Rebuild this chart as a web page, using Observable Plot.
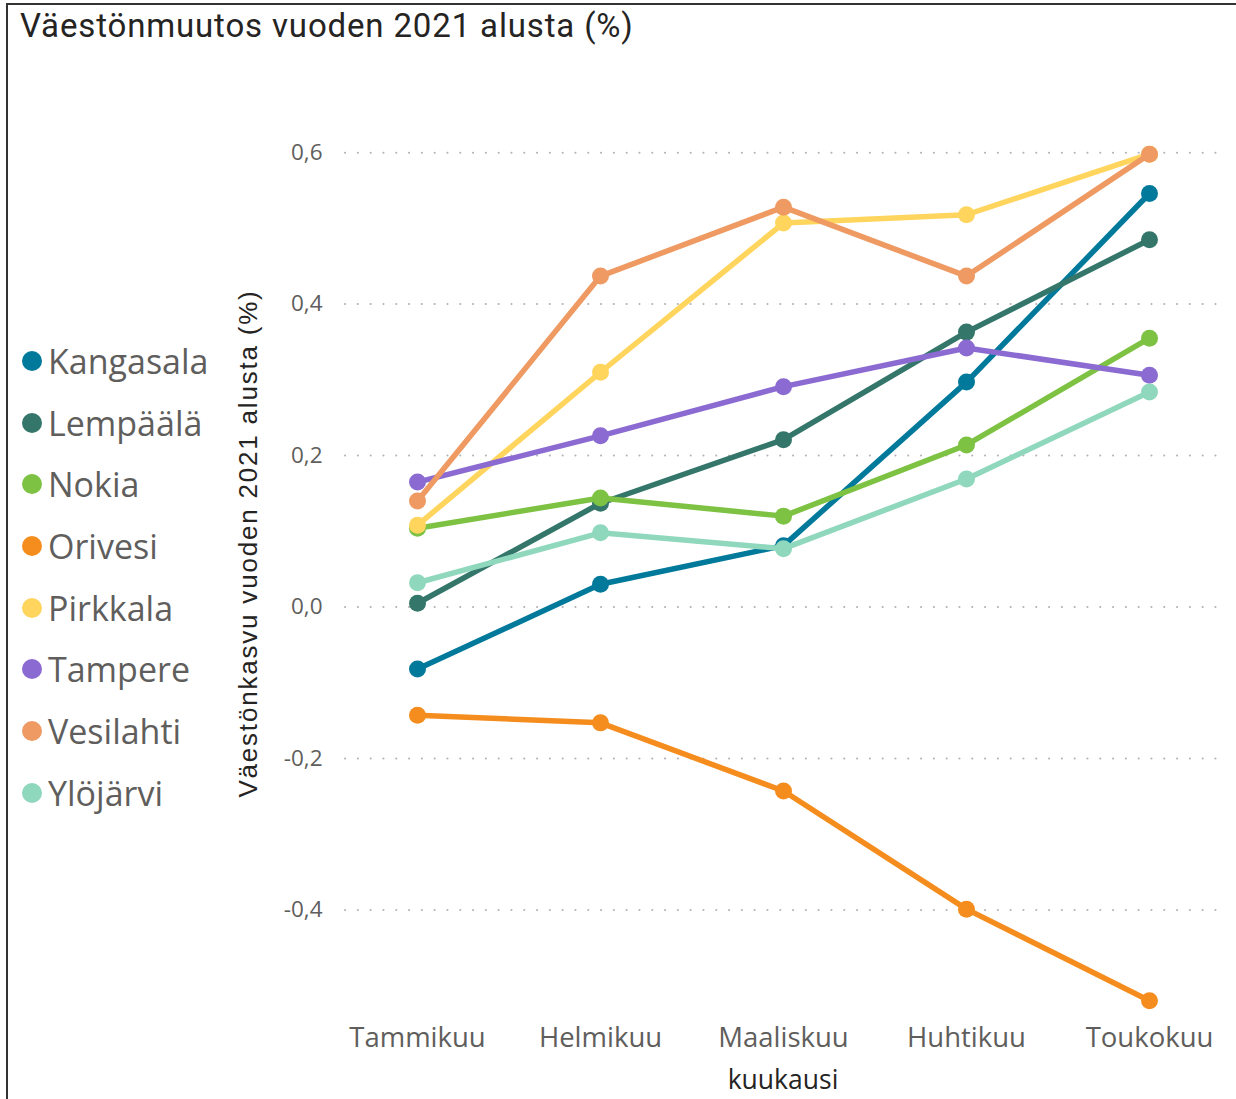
<!DOCTYPE html>
<html>
<head>
<meta charset="utf-8">
<script src="https://cdn.jsdelivr.net/npm/d3@7"></script>
<script src="https://cdn.jsdelivr.net/npm/@observablehq/plot@0.6"></script>
<style>
  html, body { margin: 0; padding: 0; background: #fff; }
  #wrap { position: relative; width: 1236px; height: 1099px; overflow: hidden; }
  #frame { position: absolute; left: 6px; top: 3px; width: 1240px; height: 1110px;
           border-top: 2px solid #333; border-left: 2px solid #333; box-sizing: border-box; }
  #title { position: absolute; left: 20px; top: 6px; font-family: Roboto, sans-serif;
           font-size: 33px; letter-spacing: 0.85px; color: #252423; white-space: nowrap; }
  #legend { position: absolute; left: 22px; top: 330px; font-family: "Open Sans", sans-serif;
            font-size: 34px; color: #605e5c; }
  .item { height: 61.7px; display: flex; align-items: center; white-space: nowrap; }
  .sw { width: 20px; height: 20px; border-radius: 50%; margin-right: 6px; flex: none; }
  #chart { position: absolute; left: 0; top: 0; }
  .ylab text { letter-spacing: 1.8px; }
</style>
</head>
<body>
<div id="wrap">
  <div id="frame"></div>
  <div id="chart"></div>
  <div id="title">Väestönmuutos vuoden 2021 alusta (%)</div>
  <div id="legend"></div>
</div>
<script>
const months = ["Tammikuu", "Helmikuu", "Maaliskuu", "Huhtikuu", "Toukokuu"];
const names = ["Kangasala", "Lempäälä", "Nokia", "Orivesi", "Pirkkala", "Tampere", "Vesilahti", "Ylöjärvi"];
const colors = ["#01799b", "#34766a", "#7dc242", "#f58d1e", "#ffd55e", "#8b6bd1", "#ee9a62", "#90d8bd"];
const kangasala = [-0.082, 0.030, 0.081, 0.297, 0.546];
const lempaala  = [0.005, 0.137, 0.221, 0.363, 0.485];
const nokia     = [0.104, 0.144, 0.120, 0.214, 0.355];
const orivesi   = [-0.143, -0.153, -0.243, -0.399, -0.520];
const pirkkala  = [0.108, 0.310, 0.507, 0.518, 0.598];
const tampere   = [0.165, 0.226, 0.291, 0.342, 0.306];
const vesilahti = [0.140, 0.437, 0.528, 0.437, 0.598];
const ylojarvi  = [0.032, 0.098, 0.077, 0.169, 0.284];
const yTicks = [-0.4, -0.2, 0, 0.2, 0.4, 0.6];

const series = [kangasala, lempaala, nokia, orivesi, pirkkala, tampere, vesilahti, ylojarvi];
const data = [];
names.forEach((n, i) => months.forEach((m, j) => data.push({name: n, month: m, value: series[i][j]})));

const fmt = d => d.toFixed(1).replace(".", ",");

const plot = Plot.plot({
  width: 1236,
  height: 1099,
  marginLeft: 345,
  marginRight: 16,
  marginTop: 137,
  marginBottom: 76,
  style: {background: "transparent", overflow: "visible"},
  x: {type: "point", domain: months, padding: 0.39},
  y: {domain: [-0.55, 0.62]},
  color: {domain: names, range: colors},
  marks: [
    Plot.ruleY(yTicks, {stroke: "#b3b3b3", strokeWidth: 2, strokeDasharray: "0.1,12.7", strokeLinecap: "round"}),
    Plot.axisY({ticks: yTicks, tickFormat: fmt, tickSize: 0, tickPadding: 23, fontSize: 22.5, color: "#605e5c", label: null, fontFamily: "Open Sans, sans-serif"}),
    Plot.axisX({tickSize: 0, tickPadding: 4, fontSize: 27.5, color: "#605e5c", label: null, fontFamily: "Open Sans, sans-serif"}),
    Plot.text(["kuukausi"], {frameAnchor: "bottom", dy: 65, fontSize: 26.5, fill: "#252423", fontFamily: "Open Sans, sans-serif"}),
    Plot.text(["Väestönkasvu vuoden 2021 alusta (%)"], {frameAnchor: "left", textAnchor: "middle", dx: -97, dy: -37, rotate: -90, fontSize: 26, fill: "#252423", fontFamily: "Liberation Sans, Arial, sans-serif", className: "ylab"}),
    ...names.map(n => [
      Plot.line(data.filter(d => d.name === n), {x: "month", y: "value", stroke: "name", strokeWidth: 5.5}),
      Plot.dot(data.filter(d => d.name === n), {x: "month", y: "value", fill: "name", r: 8.5})
    ]).flat()
  ]
});
document.getElementById("chart").appendChild(plot);

const legend = document.getElementById("legend");
names.forEach((n, i) => {
  const it = document.createElement("div");
  it.className = "item";
  it.innerHTML = `<span class="sw" style="background:${colors[i]}"></span><span>${n}</span>`;
  legend.appendChild(it);
});
</script>
</body>
</html>
